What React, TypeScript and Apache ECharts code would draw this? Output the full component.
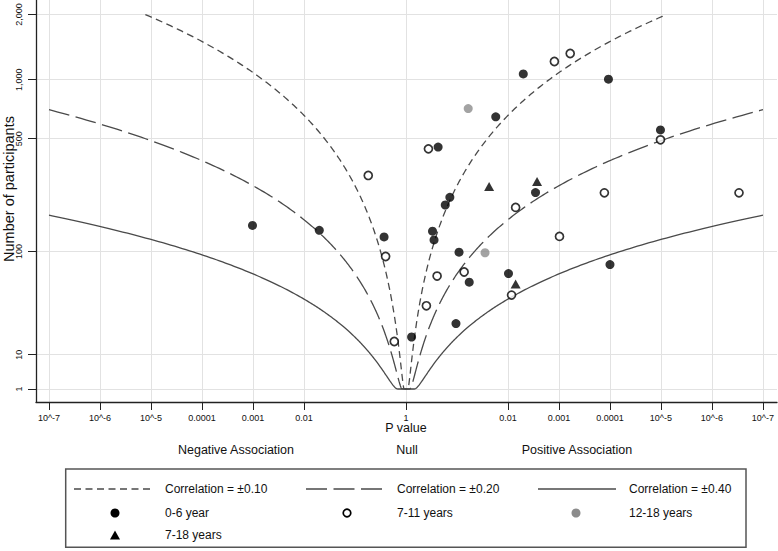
import React, { useEffect, useRef } from "react";
import * as echarts from "echarts";

// ---- axis ticks ----
const participantTicks = [1, 10, 100, 500, 1000, 2000];
const pValueTickDecades = [-7, -6, -5, -4, -3, -2, 0, 2, 3, 4, 5, 6, 7];
const pValueTickLabels = [
  "10^-7", "10^-6", "10^-5", "0.0001", "0.001", "0.01", "1",
  "0.01", "0.001", "0.0001", "10^-5", "10^-6", "10^-7",
];

// ---- contours ----
const correlations = [0.1, 0.2, 0.4];
const correlationLabels = ["Correlation = ±0.10", "Correlation = ±0.20", "Correlation = ±0.40"];
const contourMaxParticipants = 2000;
const contourMaxDecades = 7;

// ---- studies: [signed -log10(P) (negative = negative association), number of participants] ----
const age0to6: number[][] = [
  [-3.01, 152], [-1.7, 141], [-0.43, 127], [0.11, 17], [0.63, 450], [1.76, 652],
  [2.3, 1067], [3.97, 1006], [4.99, 557], [2.54, 246], [0.86, 230], [0.77, 206],
  [0.52, 139], [0.55, 121], [1.04, 99], [4.0, 80], [1.24, 58], [2.01, 68], [0.98, 24],
];
const age7to11: number[][] = [
  [-0.74, 311], [-0.4, 92], [-0.23, 15], [0.44, 440], [2.91, 1222], [3.22, 1332],
  [4.99, 493], [3.89, 245], [6.53, 245], [2.15, 199], [3.01, 128], [0.61, 65],
  [1.14, 70], [2.07, 45], [0.4, 36],
];
const age12to18: number[][] = [[1.22, 719], [1.55, 98]];
const age7to18: number[][] = [[1.63, 268], [2.57, 287], [2.15, 56]];

const FONT = "'Liberation Sans', Arial, Helvetica, sans-serif";
const LINE_COLOR = "#4a4a4a";
const GRAY = "#8c8c8c";

const toY = (n: number) => Math.log10(n) ** 2;

function erfc(x: number): number {
  const z = Math.abs(x);
  const t = 1 / (1 + 0.5 * z);
  const ans =
    t *
    Math.exp(
      -z * z - 1.26551223 +
        t * (1.00002368 + t * (0.37409196 + t * (0.09678418 + t * (-0.18628806 +
        t * (0.27886807 + t * (-1.13520398 + t * (1.48851587 + t * (-0.82215223 + t * 0.17087277))))))))
    );
  return x >= 0 ? ans : 2 - ans;
}

function decadesFor(r: number, n: number) {
  const z = r * Math.sqrt(n);
  return -Math.log10(erfc(z / Math.SQRT2));
}

function contour(r: number): number[][] {
  const right: number[][] = [[0, 0]];
  const sMax = Math.log10(contourMaxParticipants);
  let prevS = 0;
  let done = false;
  for (let i = 0; i <= 400; i++) {
    const s = (sMax * i) / 400;
    const d = decadesFor(r, Math.pow(10, s));
    if (d > contourMaxDecades) {
      let lo = prevS, hi = s;
      for (let k = 0; k < 40; k++) {
        const mid = (lo + hi) / 2;
        if (decadesFor(r, Math.pow(10, mid)) > contourMaxDecades) hi = mid;
        else lo = mid;
      }
      right.push([contourMaxDecades, lo * lo]);
      done = true;
      break;
    }
    right.push([d, s * s]);
    prevS = s;
  }
  void done;
  const left = right.slice(1).map(([d, v]) => [-d, v]).reverse();
  return [...left, ...right];
}

const dashPatterns: (number[] | "solid")[] = [[7, 4.5], [21, 6.5], "solid"];

export default function App() {
  const ref = useRef<HTMLDivElement>(null);

  useEffect(() => {
    document.body.style.margin = "0";
    if (!ref.current) return;
    const chart = echarts.init(ref.current, undefined, { renderer: "svg" });

    const contourSeries = correlations.map((r, i) => ({
      type: "line",
      name: correlationLabels[i],
      data: contour(r),
      showSymbol: false,
      symbol: "none",
      smooth: false,
      silent: true,
      z: 2,
      lineStyle: { color: LINE_COLOR, width: 1.3, type: dashPatterns[i] },
    }));

    const mapPts = (arr: number[][]) => arr.map(([d, n]) => [d, toY(n)]);

    const legendCols = [74, 306, 538];
    const rowY = [489, 513, 535];
    const textOffset = 91;

    const textEl = (text: string, x: number, y: number, size: number, align = "left", rotation = 0) => ({
      type: "text",
      x,
      y,
      rotation,
      silent: true,
      style: {
        text,
        fill: "#111",
        font: `${size}px ${FONT}`,
        align,
        verticalAlign: "middle",
        textAlign: align,
        textVerticalAlign: "middle",
      },
    });

    const graphic: any[] = [
      textEl("Number of participants", 8.5, 189, 14.5, "center", Math.PI / 2),
      textEl("P value", 406, 428, 12.5, "center"),
      textEl("Negative Association", 236, 450, 12.5, "center"),
      textEl("Null", 407, 450, 12.5, "center"),
      textEl("Positive Association", 577, 450, 12.5, "center"),
      {
        type: "rect",
        shape: { x: 65.7, y: 469, width: 680.3, height: 78.3 },
        silent: true,
        style: { fill: "#fff", stroke: "#555", lineWidth: 1.5 },
      },
    ];
    correlationLabels.forEach((lab, i) => {
      const x0 = legendCols[i];
      graphic.push({
        type: "line",
        silent: true,
        shape: { x1: x0, y1: rowY[0], x2: x0 + 78, y2: rowY[0] },
        style: {
          stroke: LINE_COLOR,
          lineWidth: 1.4,
          lineDash: dashPatterns[i] === "solid" ? null : dashPatterns[i],
        },
      });
      graphic.push(textEl(lab, x0 + textOffset, rowY[0], 12));
    });
    graphic.push({ type: "circle", silent: true, shape: { cx: 115, cy: rowY[1], r: 4.5 }, style: { fill: "#000" } });
    graphic.push(textEl("0-6 year", legendCols[0] + textOffset, rowY[1], 12));
    graphic.push({ type: "circle", silent: true, shape: { cx: 347, cy: rowY[1], r: 3.8 }, style: { fill: "#fff", stroke: "#000", lineWidth: 1.7 } });
    graphic.push(textEl("7-11 years", legendCols[1] + textOffset, rowY[1], 12));
    graphic.push({ type: "circle", silent: true, shape: { cx: 576, cy: rowY[1], r: 4.5 }, style: { fill: GRAY } });
    graphic.push(textEl("12-18 years", legendCols[2] + textOffset, rowY[1], 12));
    graphic.push({
      type: "polygon",
      silent: true,
      shape: { points: [[110, rowY[2] + 4.5], [120, rowY[2] + 4.5], [115, rowY[2] - 4.5]] },
      style: { fill: "#000" },
    });
    graphic.push(textEl("7-18 years", legendCols[0] + textOffset, rowY[2], 12));

    const option: any = {
      animation: false,
      backgroundColor: "#fff",
      textStyle: { fontFamily: FONT },
      grid: { left: 36, right: 1, top: 0, bottom: 149, outerBoundsMode: "none", containLabel: false },
      xAxis: {
        type: "value",
        min: -7.255,
        max: 7.275,
        axisLine: { show: true, onZero: false, lineStyle: { color: "#222", width: 1.3 } },
        axisTick: { show: true, length: 8, lineStyle: { color: "#222", width: 1 }, customValues: pValueTickDecades },
        axisLabel: {
          customValues: pValueTickDecades,
          fontSize: 9,
          color: "#111",
          fontFamily: FONT,
          margin: 11,
          formatter: (v: number) => {
            const idx = pValueTickDecades.findIndex((t) => Math.abs(t - v) < 1e-6);
            return idx >= 0 ? pValueTickLabels[idx] : "";
          },
        },
        splitLine: { show: true, lineStyle: { color: "#e2e2e2", width: 1 } },
      },
      yAxis: {
        type: "value",
        min: -0.378,
        max: 11.32,
        axisLine: { show: true, onZero: false, lineStyle: { color: "#222", width: 1.3 } },
        axisTick: { show: true, length: 8, lineStyle: { color: "#222", width: 1 }, customValues: participantTicks.map(toY) },
        axisLabel: {
          customValues: participantTicks.map(toY),
          rotate: 90,
          fontSize: 9,
          color: "#111",
          fontFamily: FONT,
          margin: 13,
          formatter: (v: number) => {
            const idx = participantTicks.findIndex((t) => Math.abs(toY(t) - v) < 1e-6);
            return idx >= 0 ? participantTicks[idx].toLocaleString("en-US") : "";
          },
        },
        splitLine: { show: true, lineStyle: { color: "#e2e2e2", width: 1 } },
      },
      series: [
        ...contourSeries,
        {
          type: "scatter",
          name: "0-6 year",
          data: mapPts(age0to6),
          symbol: "circle",
          symbolSize: 9,
          itemStyle: { color: "#000" },
          z: 5,
        },
        {
          type: "scatter",
          name: "7-11 years",
          data: mapPts(age7to11),
          symbol: "circle",
          symbolSize: 8,
          itemStyle: { color: "#fff", borderColor: "#000", borderWidth: 1.7 },
          z: 5,
        },
        {
          type: "scatter",
          name: "12-18 years",
          data: mapPts(age12to18),
          symbol: "circle",
          symbolSize: 9,
          itemStyle: { color: GRAY },
          z: 5,
        },
        {
          type: "scatter",
          name: "7-18 years",
          data: mapPts(age7to18),
          symbol: "triangle",
          symbolSize: [10, 9],
          itemStyle: { color: "#000" },
          z: 5,
        },
      ],
      graphic,
    };

    chart.setOption(option);
    return () => chart.dispose();
  }, []);

  return (
    <div
      ref={ref}
      style={{ position: "fixed", left: 0, top: 0, width: 778, height: 551, background: "#fff" }}
    />
  );
}
